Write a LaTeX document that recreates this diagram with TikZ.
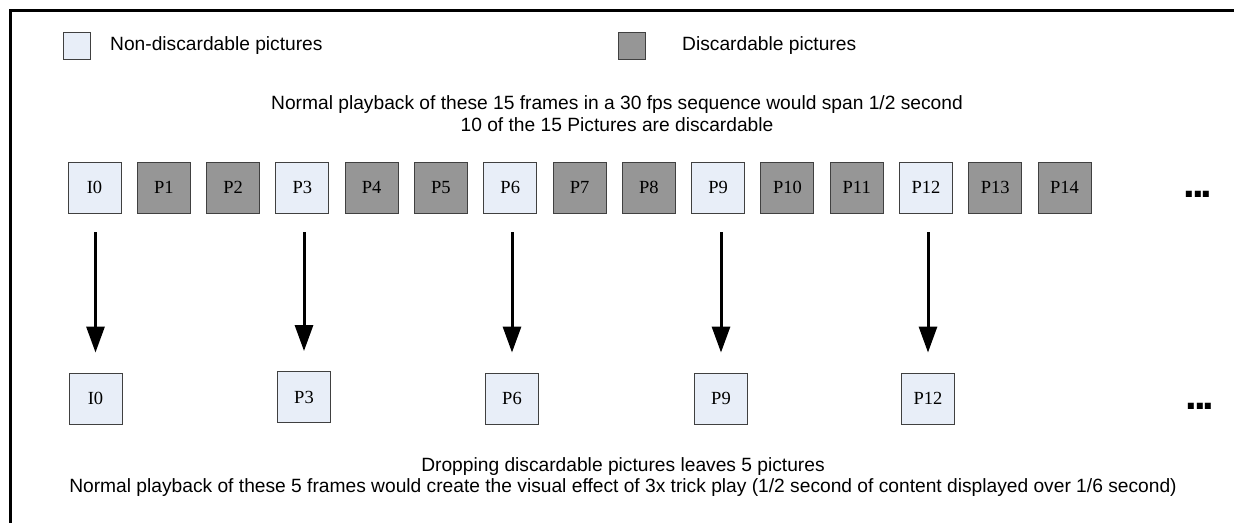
\documentclass[tikz,border=0pt]{standalone}
\usepackage{fontspec}
\setmainfont{Liberation Serif}
\setsansfont{Liberation Sans}
\usetikzlibrary{arrows.meta}
\definecolor{lightfill}{HTML}{E8EEF8}
\definecolor{darkfill}{HTML}{969696}
\definecolor{boxline}{HTML}{404040}
\begin{document}
\begin{tikzpicture}[x=1pt,y=-1pt,
  picbox/.style={draw=boxline, line width=0.9pt, minimum width=53pt, minimum height=51pt, inner sep=0pt, font=\fontsize{18.5}{18.5}\selectfont},
  keep/.style={picbox, fill=lightfill},
  drop/.style={picbox, fill=darkfill},
  legendbox/.style={draw=boxline, line width=0.9pt, minimum width=27pt, minimum height=27pt, inner sep=0pt},
  lbl/.style={font=\sffamily\fontsize{19.2}{19.2}\selectfont, inner sep=0pt, anchor=west},
  caption/.style={font=\sffamily\fontsize{19.2}{21.5}\selectfont, align=center, inner sep=0pt},
  dots/.style={font=\sffamily\bfseries\fontsize{42}{42}\selectfont, inner sep=0pt},
  arr/.style={line width=3pt, -{Triangle[length=26pt, width=18pt]}}
]
\useasboundingbox (0,0) rectangle (1234,522);
\draw[line width=3pt] (10,10.5) rectangle (1260,560);

% legend
\node[legendbox, fill=lightfill] (lk) at (77,45.5) {};
\node[lbl] (lkt) at (110,45.5) {Non-discardable pictures};
\node[legendbox, fill=darkfill] (ld) at (631.5,45.5) {};
\node[lbl] (ldt) at (682,45.5) {Discardable pictures};

% header text
\node[caption] (head) at (617,113.5) {Normal playback of these 15 frames in a 30 fps sequence would span 1/2 second\\10 of the 15 Pictures are discardable};

% top row
\foreach \i in {0,...,14}{
  \pgfmathsetmacro{\xx}{94.5+69.29*\i}
  \ifnum\i=0 \def\lab{I0}\else\def\lab{P\i}\fi
  \pgfmathtruncatemacro{\m}{mod(\i,3)}
  \ifnum\m=0
    \node[keep] (t\i) at (\xx,187.5) {\lab};
  \else
    \node[drop] (t\i) at (\xx,187.5) {\lab};
  \fi
}
\node[dots] (topdots) at (1198,194.5) {.\kern-3pt.\kern-3pt.};

% bottom row
\node[keep] (b0) at (95.5,398.5) {I0};
\node[keep] (b3) at (304,397) {P3};
\node[keep] (b6) at (512,398.5) {P6};
\node[keep] (b9) at (721,398.5) {P9};
\node[keep] (b12) at (928,398.5) {P12};
\node[dots] (botdots) at (1200,406) {.\kern-3pt.\kern-3pt.};

% arrows
\foreach \i in {0,3,6,9,12}{
  \draw[arr] ([yshift=-19pt]b\i.north |- t\i.south) -- ([yshift=20pt]b\i.north);
}

% bottom text
\node[caption] (foot) at (623,477) {Dropping discardable pictures leaves 5 pictures\\Normal playback of these 5 frames would create the visual effect of 3x trick play (1/2 second of content displayed over 1/6 second)};
\end{tikzpicture}
\end{document}
